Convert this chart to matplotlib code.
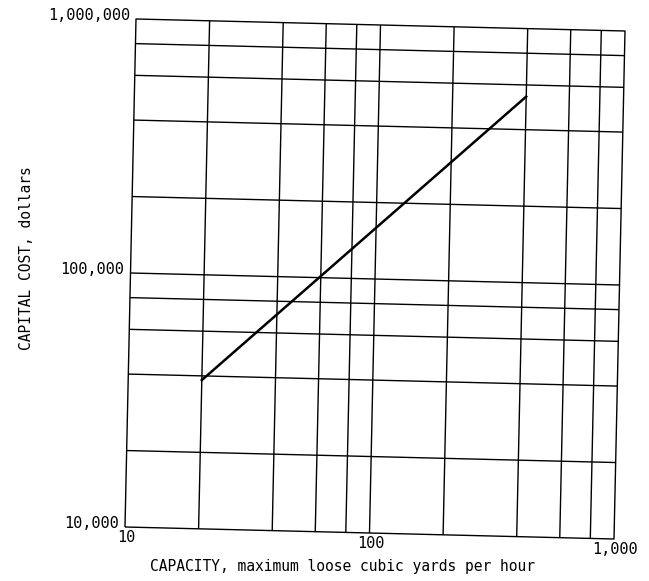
import numpy as np
import matplotlib
matplotlib.use("Agg")
import matplotlib.pyplot as plt
from matplotlib.transforms import Affine2D, offset_copy

# Capital cost curve for loose-material handling capacity
capacity = [20, 400]            # maximum loose cubic yards per hour
capital_cost = [38500, 540000]  # dollars

x_major = [10, 100, 1000]
x_major_labels = ["10", "100", "1,000"]
x_grid = [20, 40, 60, 80, 100, 200, 400, 600, 800]

y_major = [10000, 100000, 1000000]
y_major_labels = ["10,000", "100,000", "1,000,000"]
y_grid = [20000, 40000, 60000, 80000, 100000, 200000, 400000, 600000, 800000]

plt.rcParams["font.family"] = ["DejaVu Sans Mono"]

W, H, DPI = 6.49, 5.81, 100
fig = plt.figure(figsize=(W, H), dpi=DPI)

# plotting box in pixels (left, bottom, width, height)
bx, by, bw, bh = 125, 54, 489, 508
ax = fig.add_axes([bx / (W * DPI), by / (H * DPI), bw / (W * DPI), bh / (H * DPI)])
ax.set_xscale("log")
ax.set_yscale("log")
ax.set_xlim(10, 1000)
ax.set_ylim(10000, 1000000)
ax.set_autoscale_on(False)
ax.set_axis_off()

# the sheet sits slightly askew: small shear/rotation about the lower-left corner
skew = (Affine2D().translate(-bx, -by)
        + Affine2D(np.array([[1.0, 11.0 / bh, 0.0],
                             [-12.0 / bw, 1.0, 0.0],
                             [0.0, 0.0, 1.0]]))
        + Affine2D().translate(bx, by))

t_data = ax.transData + skew
t_xgrid = ax.get_xaxis_transform() + skew
t_ygrid = ax.get_yaxis_transform() + skew
t_axes = ax.transAxes + skew

line_kw = dict(color="black", lw=1.0, clip_on=False, solid_capstyle="butt")

for gx in x_grid:
    ax.plot([gx, gx], [0, 1], transform=t_xgrid, **line_kw)
for gy in y_grid:
    ax.plot([0, 1], [gy, gy], transform=t_ygrid, **line_kw)

# frame
ax.plot([0, 1, 1, 0, 0], [0, 0, 1, 1, 0], transform=t_axes, **line_kw)

# cost curve
ax.plot(capacity, capital_cost, color="black", lw=1.8, clip_on=False,
        transform=t_data, zorder=3)

# tick labels
fs = 11
for xv, lab in zip(x_major, x_major_labels):
    ax.text(xv, 0, lab, transform=offset_copy(t_xgrid, fig=fig, x=1, y=-11, units="dots"),
            ha="center", va="center", fontsize=fs)
for yv, lab in zip(y_major, y_major_labels):
    ax.text(0, yv, lab, transform=offset_copy(t_ygrid, fig=fig, x=-6, y=3, units="dots"),
            ha="right", va="center", fontsize=fs)

# axis titles
fig.text(342 / (W * DPI), 1 - 566 / (H * DPI),
         "CAPACITY, maximum loose cubic yards per hour",
         ha="center", va="center", fontsize=10.5)
fig.text(27 / (W * DPI), 1 - 258 / (H * DPI), "CAPITAL COST, dollars",
         ha="center", va="center", rotation=90, fontsize=10.5)

fig.savefig("out.png", dpi=DPI, facecolor="white")
